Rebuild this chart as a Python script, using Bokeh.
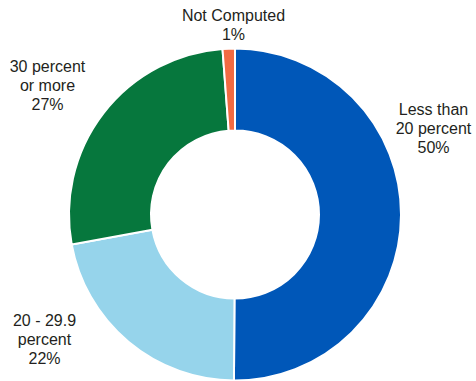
import math
from bokeh.plotting import figure
from bokeh.models import Range1d, ColumnDataSource
from bokeh.core.properties import value
from bokeh.embed import file_html
from bokeh.resources import INLINE

# ---- data ----
categories = ["Less than\n20 percent", "20 - 29.9\npercent", "30 percent\nor more", "Not Computed"]
values = [50.1, 22.0, 26.7, 1.2]
pct_labels = ["50%", "22%", "27%", "1%"]
colors = ["#0057B8", "#96D4EB", "#06773D", "#F26B43"]

W, H = 476, 381
CX, CY = 234.5, H - 214
R_OUT, R_IN = 166, 84

total = sum(values)
starts, ends = [], []
acc = 0.0
for v in values:
    starts.append(math.pi / 2 - 2 * math.pi * acc / total)
    acc += v
    ends.append(math.pi / 2 - 2 * math.pi * acc / total)

src = ColumnDataSource(dict(start=starts, end=ends, color=colors))

p = figure(width=W, height=H, output_backend="svg", toolbar_location=None,
           x_range=Range1d(0, W), y_range=Range1d(0, H), min_border=0)
p.axis.visible = False
p.grid.visible = False
p.outline_line_color = None
p.background_fill_color = "white"
p.border_fill_color = "white"

p.annular_wedge(x=CX, y=CY, inner_radius=R_IN, outer_radius=R_OUT,
                start_angle="start", end_angle="end", direction="clock",
                fill_color="color", line_color="white", line_width=2, source=src)

# label anchors (pixel positions of first line centre)
anchors = [(433, 109), (44, 320), (47, 66), (233, 15)]
LINE_H = 19
tx, ty, tt = [], [], []
for cat, pct, (ax, ay) in zip(categories, pct_labels, anchors):
    lines = cat.split("\n") + [pct]
    for i, ln in enumerate(lines):
        tx.append(ax)
        ty.append(H - (ay + i * LINE_H))
        tt.append(ln)

p.text(x=tx, y=ty, text=tt, text_align="center", text_baseline="middle",
       text_font=value("Liberation Sans"), text_font_size="16px", text_color="#231F20")

open("out.html", "w").write(file_html(p, INLINE))
